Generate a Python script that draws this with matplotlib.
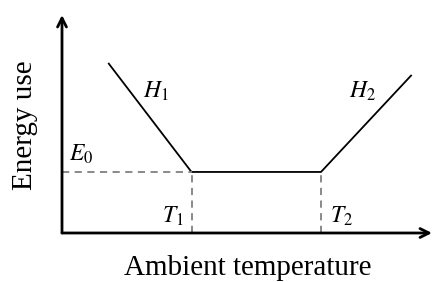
import matplotlib
matplotlib.use("Agg")
import matplotlib.pyplot as plt

# piecewise energy-use curve (ambient temperature vs energy)
temp = [1.25, 3.5, 7.0, 9.45]
energy = [7.8, 2.8, 2.8, 7.25]
T1, T2, E0 = 3.5, 7.0, 2.8

plt.rcParams["mathtext.fontset"] = "stix"
plt.rcParams["font.family"] = "Liberation Serif"

fig = plt.figure(figsize=(4.33, 2.82), dpi=100)
ax = fig.add_axes([62 / 433, 49 / 282, 370 / 433, 218 / 282])
ax.set_xlim(0, 10)
ax.set_ylim(0, 10)
ax.axis("off")

arrow = dict(arrowstyle="->", lw=2, color="black", mutation_scale=16,
             shrinkA=0, shrinkB=0)
ax.annotate("", xy=(0, 10), xytext=(0, 0), arrowprops=arrow, annotation_clip=False)
ax.annotate("", xy=(10, 0), xytext=(0, 0), arrowprops=arrow, annotation_clip=False)

ax.plot(temp, energy, color="black", lw=1.3, solid_capstyle="butt")

dash = dict(color="#808080", lw=1.3, ls=(0, (4, 3)))
ax.plot([0, T1], [E0, E0], **dash)
ax.plot([T1, T1], [0, E0], **dash)
ax.plot([T2, T2], [0, E0], **dash)

ax.text(2.2, 6.2, r"$H_1$", fontsize=17)
ax.text(7.75, 6.2, r"$H_2$", fontsize=17)
ax.text(0.2, 3.3, r"$E_0$", fontsize=17)
ax.text(2.7, 0.45, r"$T_1$", fontsize=17)
ax.text(7.25, 0.45, r"$T_2$", fontsize=17)

fig.text(25 / 433, 1 - 125 / 282, "Energy use", rotation=90, fontsize=21,
         ha="center", va="center")
fig.text(248 / 433, 1 - 268 / 282, "Ambient temperature", fontsize=21,
         ha="center", va="center")

fig.savefig("out.png", dpi=100)
